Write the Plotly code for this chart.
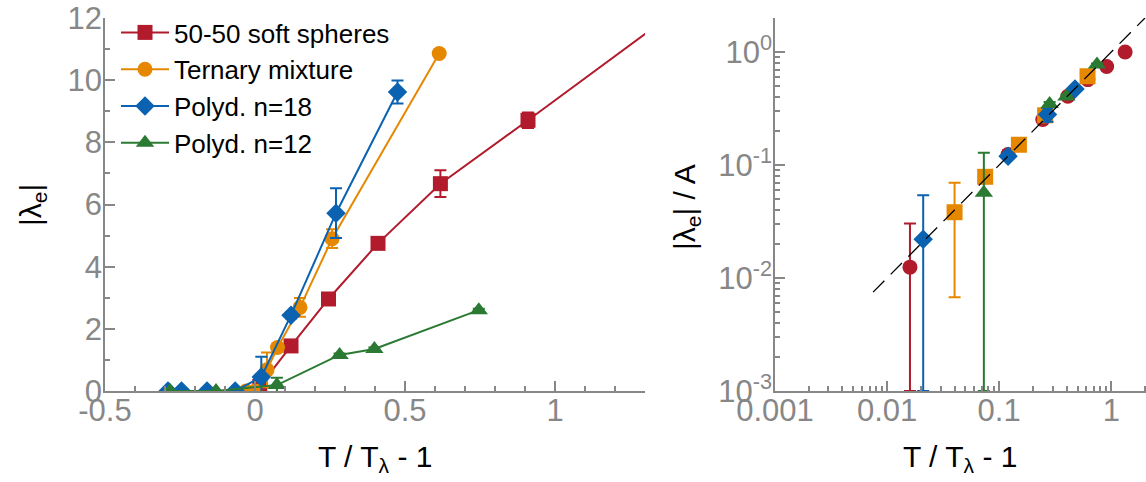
import plotly.graph_objects as go

# ---------------- data ----------------
series_names = ["50-50 soft spheres", "Ternary mixture", "Polyd. n=18", "Polyd. n=12"]

red_x = [0.016, 0.12, 0.245, 0.41, 0.618, 0.91, 1.33]
red_y = [0.146, 1.45, 2.96, 4.75, 6.67, 8.71, 11.7]
red_err = [0.21, 0.12, 0.12, 0.12, 0.43, 0.25, 0.12]

orange_x = [-0.03, 0.0, 0.04, 0.075, 0.15, 0.257, 0.614]
orange_y = [0.0, 0.0, 0.68, 1.40, 2.69, 4.90, 10.86]
orange_err = [0.0, 0.0, 0.56, 0.12, 0.30, 0.30, 0.10]

blue_x = [-0.29, -0.245, -0.16, -0.066, 0.021, 0.12, 0.27, 0.475]
blue_y = [0.0, 0.0, 0.0, 0.0, 0.45, 2.44, 5.72, 9.62]
blue_err = [0.0, 0.0, 0.0, 0.0, 0.65, 0.10, 0.80, 0.37]

green_x = [-0.283, -0.13, 0.073, 0.282, 0.398, 0.746]
green_y = [0.0, 0.0, 0.19, 1.16, 1.35, 2.60]
green_err = [0.0, 0.0, 0.24, 0.05, 0.05, 0.05]

# amplitude A used to normalise each series in the right panel
amp = [11.7, 17.8, 20.4, 3.35]

# reference line |lambda_e|/A = T/T_lambda - 1 in the right panel
guide_x = [0.0075, 2.0]
guide_y = [0.0075, 2.0]

left_xticks = [-0.5, 0, 0.5, 1]
left_xticklabels = ["-0.5", "0", "0.5", "1"]
left_yticks = [0, 2, 4, 6, 8, 10, 12]
right_xticks = [0.001, 0.01, 0.1, 1]
right_xticklabels = ["0.001", "0.01", "0.1", "1"]
right_yticks = [0.001, 0.01, 0.1, 1]
right_yticklabels = ["10<sup>-3</sup>", "10<sup>-2</sup>", "10<sup>-1</sup>", "10<sup>0</sup>"]

# ---------------- style ----------------
colors = ["#B11B2C", "#E58800", "#0A62B0", "#2B7A33"]
left_symbols = ["square", "circle", "diamond", "triangle-up"]
left_sizes = [15, 15, 15, 16]
right_symbols = ["circle", "square", "diamond", "triangle-up"]
right_sizes = [15, 16, 15, 16]
FONT = "Liberation Sans"
GRAY = "#878787"
W, H = 1146, 482

data = [
    (red_x, red_y, red_err),
    (orange_x, orange_y, orange_err),
    (blue_x, blue_y, blue_err),
    (green_x, green_y, green_err),
]

fig = go.Figure()

# left panel
for i, (xs, ys, es) in enumerate(data):
    fig.add_trace(go.Scatter(
        x=xs, y=ys, mode="lines+markers", name=series_names[i],
        line=dict(color=colors[i], width=2),
        marker=dict(symbol=left_symbols[i], size=left_sizes[i], color=colors[i], line=dict(width=0)),
        error_y=dict(type="data", array=es, visible=True, color=colors[i], thickness=2, width=6),
        xaxis="x", yaxis="y", showlegend=True,
    ))

# right panel (log-log, normalised)
yfloor = right_yticks[0]
for i, (xs, ys, es) in enumerate(data):
    rx, ry, rp, rm = [], [], [], []
    for x, y, e in zip(xs, ys, es):
        if x > 0 and y > 0:
            yn, en = y / amp[i], e / amp[i]
            rx.append(x)
            ry.append(yn)
            rp.append(en)
            rm.append(en if yn - en > yfloor else yn - yfloor)
    fig.add_trace(go.Scatter(
        x=rx, y=ry, mode="markers", name=series_names[i],
        marker=dict(symbol=right_symbols[i], size=right_sizes[i], color=colors[i], line=dict(width=0)),
        error_y=dict(type="data", symmetric=False, array=rp, arrayminus=rm, visible=True,
                     color=colors[i], thickness=2, width=6),
        xaxis="x2", yaxis="y2", showlegend=False,
    ))

fig.add_trace(go.Scatter(
    x=guide_x, y=guide_y, mode="lines", line=dict(color="black", width=1.3, dash="16px,9px"),
    xaxis="x2", yaxis="y2", showlegend=False, hoverinfo="skip",
))

def px_x(p):
    return p / W

def px_y(p):
    return (H - p) / H

axis_common = dict(
    showline=True, linecolor=GRAY, linewidth=1.5, mirror=False,
    ticks="inside", ticklen=10, tickwidth=1.5, tickcolor=GRAY,
    showgrid=False, zeroline=False,
    tickfont=dict(family=FONT, size=31, color=GRAY),
    automargin=False,
)

ydom = [px_y(391), px_y(18)]

fig.update_layout(
    width=W, height=H,
    margin=dict(l=0, r=0, t=0, b=0),
    paper_bgcolor="white", plot_bgcolor="white",
    font=dict(family=FONT, color="black"),
    xaxis=dict(
        domain=[px_x(105), px_x(645)], range=[-0.5, 1.3], anchor="y",
        tickmode="array", tickvals=left_xticks, ticktext=left_xticklabels,
        ticklabelstandoff=-9,
        minor=dict(tickmode="linear", tick0=0, dtick=0.1, ticks="inside", ticklen=5,
                   tickwidth=1.5, tickcolor=GRAY, showgrid=False),
        **axis_common,
    ),
    yaxis=dict(
        domain=ydom, range=[0, 12], anchor="x",
        tickmode="array", tickvals=left_yticks,
        ticklabelstandoff=-5,
        minor=dict(tickmode="linear", tick0=0, dtick=1, ticks="inside", ticklen=5,
                   tickwidth=1.5, tickcolor=GRAY, showgrid=False),
        **axis_common,
    ),
    xaxis2=dict(
        domain=[px_x(775), 1.0], type="log", range=[-3, 0.31], anchor="y2",
        tickmode="array", tickvals=right_xticks, ticktext=right_xticklabels,
        ticklabelstandoff=-9,
        minor=dict(dtick="D1", ticks="inside", ticklen=5, tickwidth=1.5, tickcolor=GRAY, showgrid=False),
        **axis_common,
    ),
    yaxis2=dict(
        domain=ydom, type="log", range=[-3, 0.301], anchor="x2",
        tickmode="array", tickvals=right_yticks, ticktext=right_yticklabels,
        ticklabelstandoff=-5,
        minor=dict(dtick="D1", ticks="inside", ticklen=5, tickwidth=1.5, tickcolor=GRAY, showgrid=False),
        **axis_common,
    ),
    legend=dict(
        x=px_x(116), y=px_y(9), xanchor="left", yanchor="top",
        bgcolor="rgba(0,0,0,0)", font=dict(family=FONT, size=26, color="black"),
        tracegroupgap=0, itemwidth=48,
    ),
    annotations=[
        dict(text="T / T<sub>λ</sub> - 1", x=px_x(375), y=px_y(458), xref="paper", yref="paper",
             xanchor="center", yanchor="middle", showarrow=False, font=dict(family=FONT, size=30, color="black")),
        dict(text="T / T<sub>λ</sub> - 1", x=px_x(960), y=px_y(458), xref="paper", yref="paper",
             xanchor="center", yanchor="middle", showarrow=False, font=dict(family=FONT, size=30, color="black")),
        dict(text="|λ<sub>e</sub>|", x=px_x(32), y=px_y(205), xref="paper", yref="paper", textangle=-90,
             xanchor="center", yanchor="middle", showarrow=False, font=dict(family=FONT, size=30, color="black")),
        dict(text="|λ<sub>e</sub>| / A", x=px_x(686), y=px_y(207), xref="paper", yref="paper", textangle=-90,
             xanchor="center", yanchor="middle", showarrow=False, font=dict(family=FONT, size=30, color="black")),
    ],
)

fig.write_html("out.html", config={"displayModeBar": False},
               post_script="document.body.style.margin='0px';")
